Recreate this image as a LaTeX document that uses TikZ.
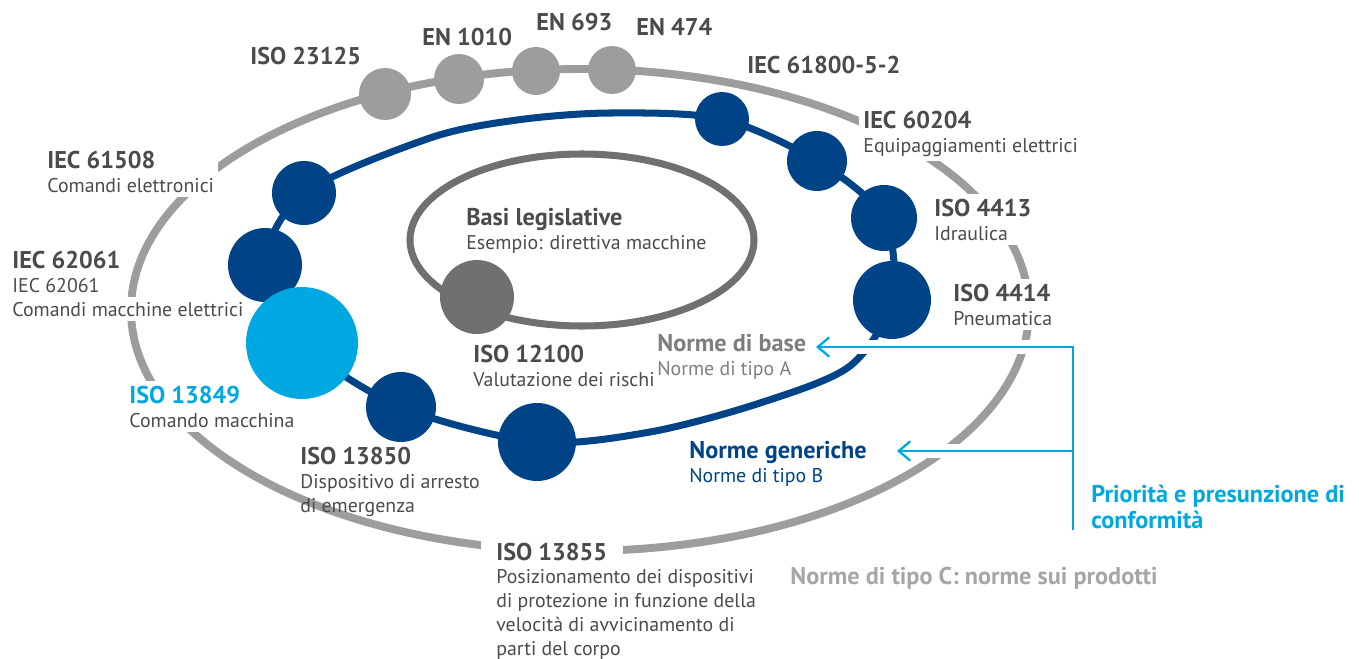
\documentclass[tikz,border=0pt]{standalone}
\usepackage{fontspec}
\setmainfont{PT Sans}
\usepackage{tikz}
\usepackage[dvipsnames]{xcolor}
\usetikzlibrary{arrows.meta}
\usetikzlibrary{positioning}
\definecolor{txtgray}{HTML}{4B4B4B}
\definecolor{ringgray}{HTML}{9D9D9D}
\definecolor{coregray}{HTML}{707070}
\definecolor{normblue}{HTML}{004387}
\definecolor{skyblue}{HTML}{00A8E2}
\definecolor{basegray}{HTML}{7E7E7E}
\definecolor{prodgray}{HTML}{A6A6A6}
\newcommand{\hd}[1]{{\fontsize{13.8}{13.6}\selectfont\bfseries #1}}
\tikzset{lbl/.style = {anchor=base west, align=left, inner sep=2.5pt, xshift=-2.5pt, text=txtgray, font=\fontsize{11.3}{13.6}\selectfont}}
\tikzset{knock/.style = {fill=white}}
\tikzset{ring/.style = {line width=4.5pt}}
\tikzset{band/.style = {white, line width=8pt}}
\tikzset{prio/.style = {skyblue, line width=1.3pt}}

\begin{document}
\begin{tikzpicture}[x=0.02cm, y=-0.02cm]
        \useasboundingbox (0,0) rectangle (1359,659);
        % centres of the dots
        \coordinate (c23125) at (385,94);
        \coordinate (c1010) at (459,79);
        \coordinate (c693) at (536,71);
        \coordinate (c474) at (612,70);
        \coordinate (c61800) at (722,119);
        \coordinate (c60204) at (817,161);
        \coordinate (c4413) at (884,218);
        \coordinate (c4414) at (892,300);
        \coordinate (c13855) at (537,442);
        \coordinate (c13850) at (401,407);
        \coordinate (c13849) at (302,343);
        \coordinate (c62061) at (265,265);
        \coordinate (c61508) at (304,193);
        \coordinate (c12100) at (477,297);
        % rings
        \draw[ring, ringgray] (580,310) ellipse [x radius=449, y radius=241];
        \draw[ring, coregray, line width=4pt] (582,240) ellipse [x radius=172, y radius=86];
        \draw[ring, normblue, line width=4pt] plot[smooth cycle] coordinates {(c61508) (430,138) (517,120) (610,113) (c61800) (c60204) (c4413) (c4414) (850,366) (760,403) (650,432) (c13855) (c13850) (c13849) (c62061)};
        % labels (placed at the baseline of their last line)
        \node[lbl] (t23125) at (250,64) {\hd{ISO 23125}};
        \node[lbl] (t1010) at (422,45) {\hd{EN 1010}};
        \node[lbl] (t693) at (536,31) {\hd{EN 693}};
        \node[lbl] (t474) at (636,35) {\hd{EN 474}};
        \node[lbl] (t61800) at (747,73) {\hd{IEC 61800-5-2}};
        \node[lbl, knock] (t60204) at (863,152) {\hd{IEC 60204}\\Equipaggiamenti elettrici};
        \node[lbl, knock] (t4413) at (934,240) {\hd{ISO 4413}\\Idraulica};
        \node[lbl, knock] (t4414) at (953,325) {\hd{ISO 4414}\\Pneumatica};
        \node[lbl, text=basegray] (nbase) at (657,375) {\hd{Norme di base}\\Norme di tipo A};
        \node[lbl, text=normblue] (ngen) at (689,482) {\hd{Norme generiche}\\Norme di tipo B};
        \node[lbl, text=skyblue] (prio) at (1091,528) {\hd{Priorità e presunzione di}\\[1pt]\hd{conformità}};
        \node[lbl, text=prodgray] (prodC) at (790,584) {\hd{Norme di tipo C: norme sui prodotti}};
        \node[lbl, knock, inner xsep=9pt, xshift=-6.5pt] (t13855) at (496,560) {\hd{ISO 13855}};
        \node[lbl] (s13855) at (496,655) {Posizionamento dei dispositivi\\di protezione in funzione della\\velocità di avvicinamento di\\parti del corpo};
        \node[lbl] (t13850) at (300,512) {\hd{ISO 13850}\\Dispositivo di arresto\\di emergenza};
        \node[lbl, knock] (t13849) at (129,427) {\hd{\textcolor{skyblue}{ISO 13849}}\\Comando macchina};
        \node[lbl] (t62061) at (12,292) {\hd{IEC 62061}\\IEC 62061};
        \node[lbl, knock] (s62061) at (12,316) {Comandi macchine elettrici};
        \node[lbl, knock] (t61508) at (47,192) {\hd{IEC 61508}\\Comandi elettronici};
        \node[lbl] (tbasi) at (466,249) {\hd{Basi legislative}\\Esempio: direttiva macchine};
        \node[lbl] (t12100) at (473,386) {\hd{ISO 12100}\\Valutazione dei rischi};
        % priority arrows
        \coordinate (top) at (1073,347);
        \coordinate (mid) at (1073,451);
        \coordinate (bot) at (1073,530);
        \coordinate (tipA) at (816,347);
        \coordinate (tipB) at (897,451);
        \draw[band] (top) -- (tipA);
        \draw[band] (mid) -- (tipB);
        \draw[prio, -{Straight Barb[length=6.5pt, width=11pt]}] (bot) -- (top) -- (tipA);
        \draw[prio, -{Straight Barb[length=6.5pt, width=11pt]}] (mid) -- (tipB);
        % dots
        \fill[ringgray] (c23125) circle [radius=26];
        \fill[ringgray] (c1010) circle [radius=25];
        \fill[ringgray] (c693) circle [radius=24];
        \fill[ringgray] (c474) circle [radius=24];
        \fill[coregray] (c12100) circle [radius=37];
        \fill[normblue] (c61800) circle [radius=27];
        \fill[normblue] (c60204) circle [radius=30];
        \fill[normblue] (c4413) circle [radius=33];
        \fill[normblue] (c4414) circle [radius=39];
        \fill[normblue] (c13855) circle [radius=39];
        \fill[normblue] (c13850) circle [radius=35];
        \fill[normblue] (c62061) circle [radius=37];
        \fill[normblue] (c61508) circle [radius=32];
        \fill[skyblue] (c13849) circle [radius=56];
    \end{tikzpicture}
\end{document}
